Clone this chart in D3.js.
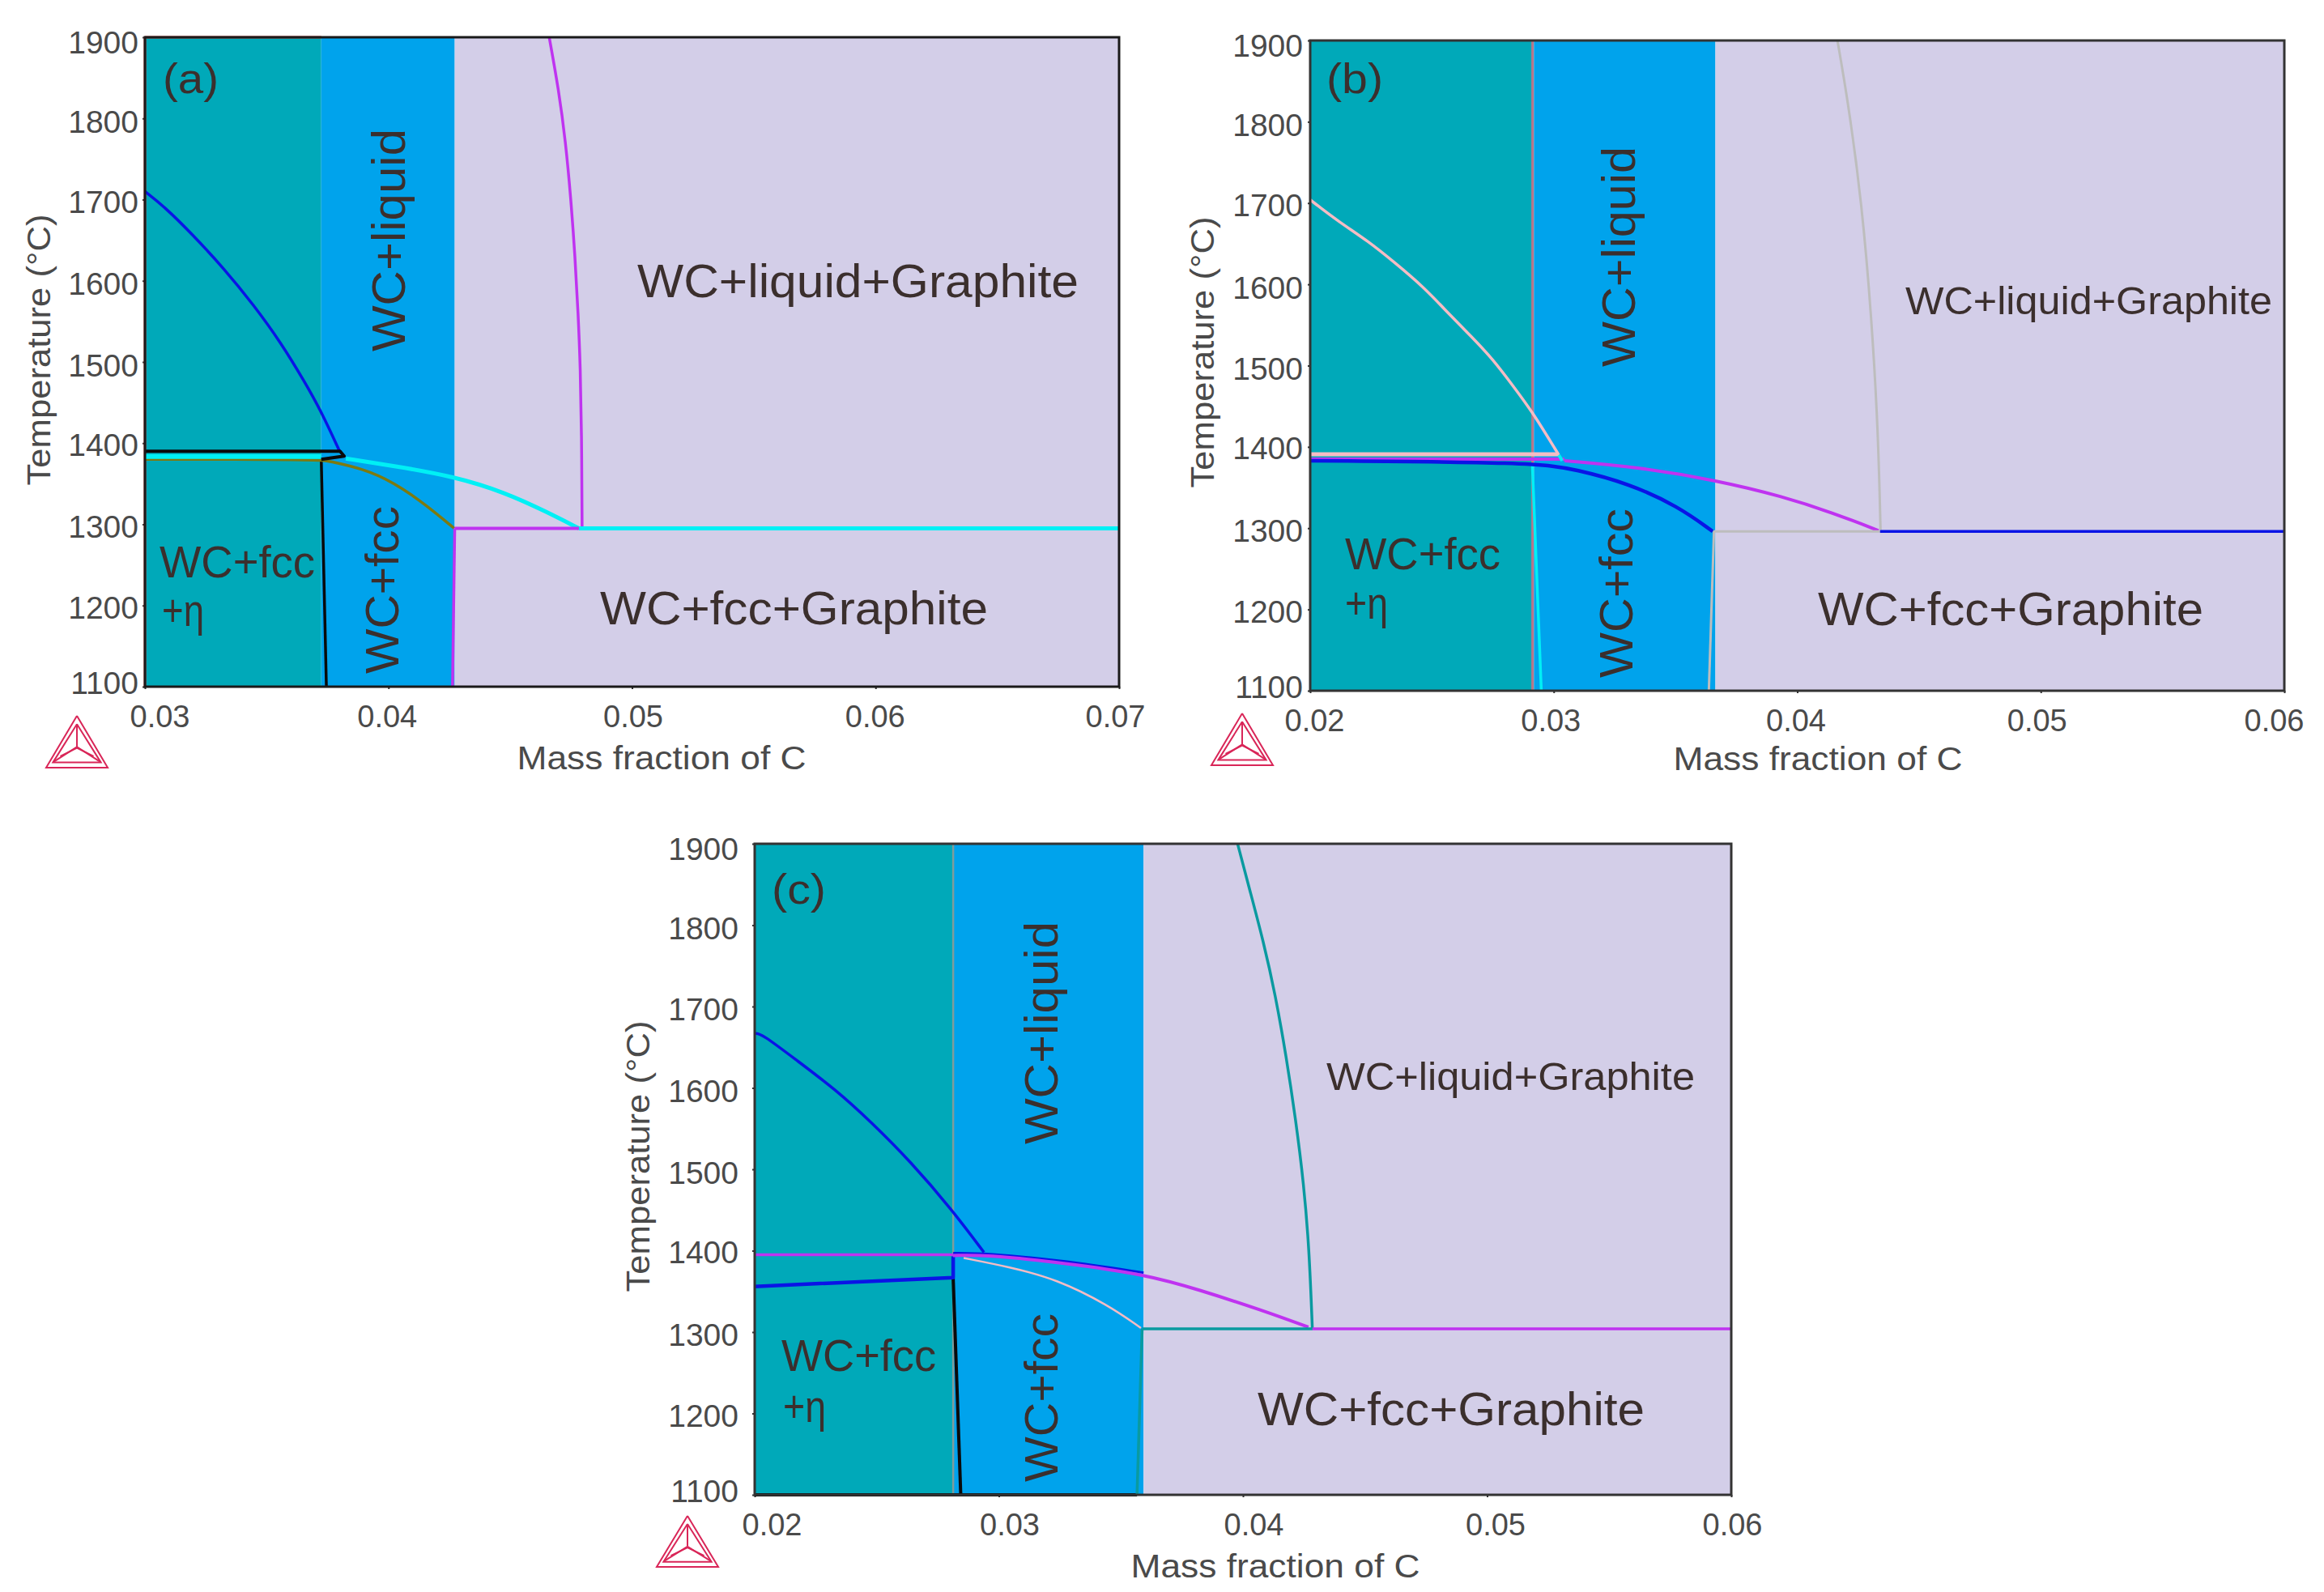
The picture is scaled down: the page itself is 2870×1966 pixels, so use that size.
<!DOCTYPE html>
<html>
<head>
<meta charset="utf-8">
<title>WC phase diagrams</title>
<script src="https://cdn.jsdelivr.net/npm/d3@7"></script>
<style>
  body { margin: 0; background: #fff; }
  text { font-family: "Liberation Sans", Arial, sans-serif; }
</style>
</head>
<body>
<div id="chart"></div>
<script>
// tick labels shared by the panels
var tempTicks = [1100, 1200, 1300, 1400, 1500, 1600, 1700, 1800, 1900];
var massTicksA = [0.03, 0.04, 0.05, 0.06, 0.07];
var massTicksBC = [0.02, 0.03, 0.04, 0.05, 0.06];

// phase field boundaries (mass fraction)
var boundsA = [0.03724, 0.04272];
var boundsB = [0.02919, 0.03664];
var boundsC = [0.02813, 0.03593];

// panel (a) lines, [mass fraction, temperature]
var aLeftEdge = [[0.03, 1100], [0.03, 1900]];
var aTopEdge = [[0.03, 1900], [0.03724, 1900]];
var aLiquidus = [[0.03, 1710], [0.03081, 1691], [0.03192, 1658], [0.03325, 1615], [0.03447, 1570], [0.03558, 1524], [0.03657, 1475], [0.03724, 1439], [0.03801, 1389]];
var aTieTop = [[0.03, 1390], [0.03801, 1390], [0.03818, 1384], [0.03724, 1380]];
var aEta = [[0.03724, 1380], [0.03745, 1100]];
var aFccLow = [[0.03, 1380], [0.03724, 1380], [0.03751, 1378], [0.03891, 1369], [0.04021, 1352], [0.04154, 1324], [0.0427, 1295]];
var aTieMid = [[0.03, 1383.5], [0.03724, 1383.5]];
var aFccHigh = [[0.03825, 1381], [0.04021, 1372], [0.0427, 1359], [0.04481, 1339], [0.04652, 1315], [0.04782, 1295]];
var aEutectic = [[0.04782, 1295], [0.07, 1295]];
var aStepFlat = [[0.04272, 1295], [0.04795, 1295]];
var aStepDown = [[0.04272, 1295], [0.04263, 1100]];
var aGraphite = [[0.0466, 1900], [0.04699, 1835], [0.04727, 1772], [0.04749, 1701], [0.04766, 1630], [0.04779, 1559], [0.04788, 1492], [0.04793, 1413], [0.04795, 1296]];

// panel (b) lines
var bBoundaryLine = [[0.02913, 1100], [0.02913, 1900]];
var bLiquidus = [[0.02, 1704], [0.02117, 1677], [0.02239, 1653], [0.0235, 1626], [0.02461, 1598], [0.02572, 1563], [0.02661, 1536], [0.0275, 1508], [0.02838, 1473], [0.02915, 1442], [0.03021, 1390]];
var bTieTop = [[0.02, 1391], [0.03021, 1391]];
var bTieMid = [[0.02, 1385], [0.03044, 1385]];
var bFccLow = [[0.02, 1383], [0.02924, 1381], [0.03094, 1372], [0.03307, 1355], [0.0351, 1327], [0.03653, 1296]];
var bFccHigh = [[0.03044, 1383], [0.0335, 1375], [0.03666, 1359], [0.03942, 1339], [0.04145, 1319], [0.04334, 1297]];
var bEta = [[0.02912, 1380], [0.02949, 1100]];
var bApex = [[0.03021, 1390], [0.03035, 1383]];
var bEutectic = [[0.0434, 1296], [0.06, 1296]];
var bStepFlat = [[0.03655, 1296], [0.0434, 1296]];
var bStepDown = [[0.03658, 1296], [0.03637, 1100]];
var bGraphite = [[0.04165, 1900], [0.0421, 1822], [0.04265, 1700], [0.04305, 1560], [0.04332, 1420], [0.04342, 1298]];

// panel (c) lines
var cBoundaryLine = [[0.02813, 1100], [0.02813, 1900]];
var cLiquidus = [[0.02, 1667], [0.02027, 1667], [0.02176, 1633], [0.02331, 1598], [0.02474, 1559], [0.0264, 1509], [0.02806, 1451], [0.02939, 1398]];
var cTieTop = [[0.02, 1395], [0.02813, 1395]];
var cEtaFlat = [[0.02, 1356], [0.02813, 1367], [0.02813, 1393]];
var cEta = [[0.02813, 1366], [0.02844, 1100]];
var cBottom = [[0.02, 1100], [0.03566, 1100]];
var cFccHighBlue = [[0.02813, 1397], [0.02942, 1397], [0.03264, 1388], [0.03593, 1373]];
var cFccHigh = [[0.02813, 1394], [0.02942, 1395], [0.03264, 1385], [0.03598, 1371], [0.03821, 1352], [0.04076, 1327], [0.04268, 1306]];
var cFccLow = [[0.02856, 1391], [0.03043, 1380], [0.03237, 1365], [0.03449, 1333], [0.03582, 1305]];
var cEutectic = [[0.04285, 1304], [0.06, 1304]];
var cStepFlat = [[0.03587, 1304], [0.04285, 1304]];
var cStepDown = [[0.03587, 1304], [0.03566, 1100]];
var cGraphite = [[0.03978, 1900], [0.04027, 1844], [0.04083, 1781], [0.04133, 1714], [0.04177, 1639], [0.04216, 1561], [0.04249, 1482], [0.04271, 1403], [0.04284, 1305]];

// text on the panels
var fieldLiquid = "WC+liquid";
var fieldFcc = "WC+fcc";
var fieldLiquidGr = "WC+liquid+Graphite";
var fieldFccGr = "WC+fcc+Graphite";
var fieldEta1 = "WC+fcc";
var fieldEta2 = "+η";
var xTitle = "Mass fraction of C";
var yTitle = "Temperature (°C)";

var svgWidth = 2870;
var svgHeight = 1966;

var colorTeal = "#00a9b9";
var colorBlue = "#00a3ec";
var colorLav = "#d3cee8";
var inkField = "#3b2f2d";
var inkAxis = "#4a4a4a";

var black = "#0a0a0a", blue = "#0a14e6", cyan = "#00f0f5", purple = "#bf33f0", brown = "#7d7a10",
    grey = "#bdbdbd", pink = "#f5bcc4", teal = "#0a9aa0", red = "#d9453f", rose = "#b9758a", slate = "#7f9c9c";

// y label nudges follow tempTicks order
var yNudge = [-5, 3, 3, 2, 4, 4, 3, 4, 6];

// series drawn as smooth curves, the rest keep their corners
var smoothLines = [aLiquidus, aFccLow, aFccHigh, aGraphite, bLiquidus, bFccLow, bFccHigh, bGraphite,
    cLiquidus, cFccHighBlue, cFccHigh, cFccLow, cGraphite];

var panels = [
  {
    left: 179, top: 46, right: 1382, bottom: 848, domain: [0.03, 0.07], ticks: massTicksA, bounds: boundsA,
    xNudge: [18, -2, 1, -1, -5], yLabelX: -8, frame: "#1a1a1a",
    lines: [
      [aLeftEdge, red, 3], [aTopEdge, red, 3], [aLiquidus, blue, 3.5],
      [aEta, black, 3.5], [aFccLow, brown, 3.5], [aTieMid, cyan, 6], [aTieTop, black, 4],
      [aFccHigh, cyan, 5], [aStepFlat, purple, 4], [aStepDown, purple, 3.5],
      [aGraphite, purple, 3.5], [aEutectic, cyan, 5]
    ],
    texts: [
      ["(a)", 22, 69, 52, 69, 0], [fieldLiquidGr, 608, 321, 58, 545, 0], [fieldFccGr, 562, 725, 58, 479, 0],
      [fieldEta1, 18, 667, 55, 192, 0], [fieldEta2, 21, 727, 55, 52, 0],
      [fieldLiquid, 321, 388, 58, 275, -90], [fieldFcc, 313, 786, 58, 207, -90]
    ],
    xTitleAt: [638, 102], yTitleAt: [-117, 386], logo: [-122, 36, 76, 64]
  },
  {
    left: 1618, top: 50, right: 2821, bottom: 853, domain: [0.02, 0.06], ticks: massTicksBC, bounds: boundsB,
    xNudge: [5, -4, -2, -5, -13], yLabelX: -9, frame: "#333333",
    lines: [
      [bBoundaryLine, rose, 3], [bEta, cyan, 3.5], [bTieMid, purple, 4], [bFccLow, blue, 4.5],
      [bLiquidus, pink, 3.5], [bTieTop, pink, 5], [bApex, cyan, 4], [bFccHigh, purple, 4], [bStepFlat, grey, 3],
      [bStepDown, grey, 3], [bGraphite, grey, 3], [bEutectic, blue, 3.5]
    ],
    texts: [
      ["(b)", 20, 65, 52, 70, 0], [fieldLiquidGr, 735, 338, 48, 453, 0], [fieldFccGr, 627, 722, 58, 476, 0],
      [fieldEta1, 43, 653, 55, 192, 0], [fieldEta2, 43, 714, 55, 53, 0],
      [fieldLiquid, 401, 403, 58, 272, -90], [fieldFcc, 398, 787, 58, 209, -90]
    ],
    xTitleAt: [627, 98], yTitleAt: [-119, 385], logo: [-122, 28, 76, 64]
  },
  {
    left: 932, top: 1042, right: 2138, bottom: 1846, domain: [0.02, 0.06], ticks: massTicksBC, bounds: boundsC,
    xNudge: [21, 13, 13, 10, 1], yLabelX: -20, frame: "#333333",
    lines: [
      [cBoundaryLine, slate, 2.5], [cLiquidus, blue, 3.5], [cTieTop, purple, 3.5], [cEta, black, 4], [cEtaFlat, blue, 4.5],
      [cFccHighBlue, blue, 3], [cFccHigh, purple, 4], [cFccLow, pink, 2.5], [cBottom, black, 4],
      [cStepFlat, teal, 3.5], [cStepDown, teal, 3.5], [cGraphite, teal, 3.5], [cEutectic, purple, 3.5]
    ],
    texts: [
      ["(c)", 21, 74, 52, 67, 0], [fieldLiquidGr, 706, 304, 48, 455, 0], [fieldFccGr, 621, 718, 58, 478, 0],
      [fieldEta1, 33, 651, 55, 191, 0], [fieldEta2, 35, 714, 55, 53, 0],
      [fieldLiquid, 374, 371, 58, 275, -90], [fieldFcc, 374, 788, 58, 208, -90]
    ],
    xTitleAt: [643, 102], yTitleAt: [-130, 386], logo: [-121, 26, 76, 63]
  }
];

var svg = d3.select("#chart")
    .append("svg")
    .attr("width", svgWidth)
    .attr("height", svgHeight)
    .style("display", "block");

function drawLogo(g, box) {
  // small triangle mark under each y axis, unit coordinates
  var logo = g.append("g")
      .attr("transform", `translate(${box[0]}, ${box[1]}) scale(${box[2]}, ${box[3]})`)
      .attr("fill", "none")
      .attr("stroke", "#d92658")
      .attr("stroke-width", 2);
  var tri = d3.line();
  var shapes = [
    [[0.5, 0], [0, 1], [1, 1], [0.5, 0]],
    [[0.5, 0.16], [0.11, 0.9], [0.89, 0.9], [0.5, 0.16]],
    [[0.5, 0.16], [0.5, 0.6]],
    [[0.5, 0.6], [0.13, 0.88]],
    [[0.5, 0.6], [0.87, 0.88]],
    [[0.23, 0.78], [0.5, 0.62], [0.77, 0.78]]
  ];
  logo.selectAll("path")
    .data(shapes)
    .enter()
    .append("path")
    .attr("d", d => tri(d))
    .attr("vector-effect", "non-scaling-stroke");
}

panels.forEach(function(p) {
  var width = p.right - p.left;
  var height = p.bottom - p.top;

  var xScale = d3.scaleLinear().domain(p.domain).range([0, width]);
  var yScale = d3.scaleLinear().domain([1100, 1900]).range([height, 0]);

  var chartGroup = svg.append("g")
      .attr("transform", `translate(${p.left}, ${p.top})`);

  // phase field bands
  var edges = [p.domain[0], p.bounds[0], p.bounds[1], p.domain[1]];
  var fills = [colorTeal, colorBlue, colorLav];
  chartGroup.selectAll("rect.band")
    .data(fills)
    .enter()
    .append("rect")
    .attr("class", "band")
    .attr("x", (d, i) => xScale(edges[i]))
    .attr("y", 0)
    .attr("width", (d, i) => xScale(edges[i + 1]) - xScale(edges[i]))
    .attr("height", height)
    .attr("fill", d => d);

  // axes
  var bottomAxis = d3.axisBottom(xScale).tickValues(p.ticks).tickSize(3).tickFormat(d3.format(".2f"));
  var leftAxis = d3.axisLeft(yScale).tickValues(tempTicks).tickSize(3).tickFormat(d3.format("d"));

  var xG = chartGroup.append("g").attr("transform", `translate(0, ${height})`).call(bottomAxis);
  var yG = chartGroup.append("g").call(leftAxis);

  xG.select(".domain").remove();
  yG.select(".domain").remove();
  xG.selectAll("line").attr("stroke", "#333").attr("stroke-width", 2);
  yG.selectAll("line").attr("stroke", "#333").attr("stroke-width", 2);

  xG.selectAll("text")
    .attr("font-size", 38)
    .attr("fill", inkAxis)
    .attr("y", 0)
    .attr("dy", 50)
    .attr("dx", (d, i) => p.xNudge[i]);
  yG.selectAll("text")
    .attr("font-size", 39)
    .attr("fill", inkAxis)
    .attr("x", p.yLabelX)
    .attr("dy", (d, i) => 13 + yNudge[i]);

  // phase boundaries
  var lineSharp = d3.line()
      .x(d => xScale(d[0]))
      .y(d => yScale(d[1]));
  var lineSmooth = d3.line()
      .x(d => xScale(d[0]))
      .y(d => yScale(d[1]))
      .curve(d3.curveBasis);
  chartGroup.selectAll("path.boundary")
    .data(p.lines)
    .enter()
    .append("path")
    .attr("class", "boundary")
    .attr("d", d => smoothLines.includes(d[0]) ? lineSmooth(d[0]) : lineSharp(d[0]))
    .attr("fill", "none")
    .attr("stroke", d => d[1])
    .attr("stroke-width", d => d[2])
    .attr("stroke-linejoin", "round");

  // frame
  chartGroup.append("rect")
    .attr("width", width)
    .attr("height", height)
    .attr("fill", "none")
    .attr("stroke", p.frame)
    .attr("stroke-width", 3);

  // field labels
  chartGroup.selectAll("text.field")
    .data(p.texts)
    .enter()
    .append("text")
    .attr("class", "field")
    .attr("transform", d => `translate(${d[1]}, ${d[2]}) rotate(${d[5]})`)
    .attr("font-size", d => d[3])
    .attr("textLength", d => d[4])
    .attr("lengthAdjust", "spacingAndGlyphs")
    .attr("fill", inkField)
    .text(d => d[0]);

  // axis titles
  chartGroup.append("text")
    .attr("transform", `translate(${p.xTitleAt[0]}, ${height + p.xTitleAt[1]})`)
    .attr("text-anchor", "middle")
    .attr("font-size", 40)
    .attr("textLength", 357)
    .attr("lengthAdjust", "spacingAndGlyphs")
    .attr("fill", inkAxis)
    .text(xTitle);
  chartGroup.append("text")
    .attr("transform", `translate(${p.yTitleAt[0]}, ${p.yTitleAt[1]}) rotate(-90)`)
    .attr("text-anchor", "middle")
    .attr("font-size", 40)
    .attr("textLength", 335)
    .attr("lengthAdjust", "spacingAndGlyphs")
    .attr("fill", inkAxis)
    .text(yTitle);

  drawLogo(chartGroup, [p.logo[0], height + p.logo[1], p.logo[2], p.logo[3]]);
});
</script>
</body>
</html>
